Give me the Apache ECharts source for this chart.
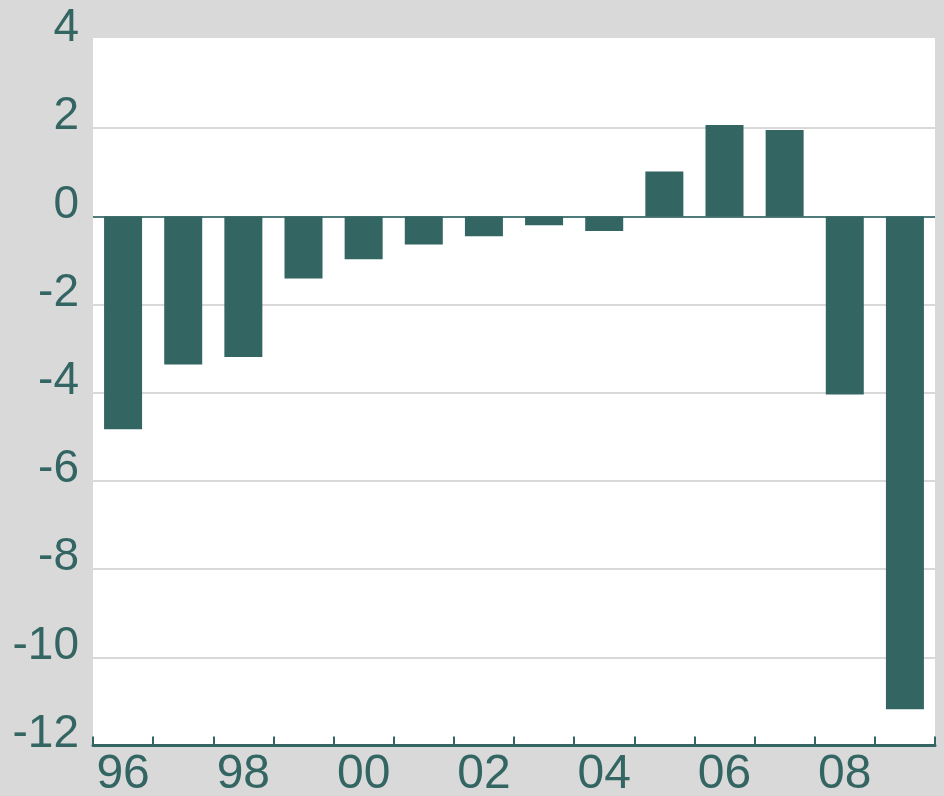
<!DOCTYPE html>
<html>
<head>
<meta charset="utf-8">
<script src="https://cdn.jsdelivr.net/npm/echarts@6/dist/echarts.min.js"></script>
<style>
  html, body { margin: 0; padding: 0; background: #d9d9d9; }
  #chart { width: 944px; height: 796px; }
</style>
</head>
<body>
<div id="chart"></div>
<script>
const categories = ['96','97','98','99','00','01','02','03','04','05','06','07','08','09'];
const values = [-4.83, -3.36, -3.19, -1.41, -0.97, -0.64, -0.45, -0.2, -0.33, 1.02, 2.07, 1.96, -4.04, -11.18];
const yTicks = { min: -12, max: 4, interval: 2 };

const teal = '#336563';
const font = "'Liberation Sans Narrow', 'Arial Narrow', 'Liberation Sans', Arial, sans-serif";

const chart = echarts.init(document.getElementById('chart'), null, { renderer: 'canvas' });
chart.setOption({
  backgroundColor: '#d9d9d9',
  animation: false,
  graphic: [{
    type: 'rect', z: -10, silent: true,
    shape: { x: 93, y: 38, width: 842, height: 708 },
    style: { fill: '#ffffff' }
  }],
  grid: { left: 93, right: 9, top: 40, bottom: 50.5, containLabel: false, outerBoundsMode: 'none' },
  xAxis: {
    type: 'category',
    data: categories,
    boundaryGap: true,
    axisLine: { show: true, onZero: false, lineStyle: { color: teal, width: 3 } },
    axisTick: { show: true, inside: true, length: 9, interval: 0, alignWithLabel: false, lineStyle: { color: teal, width: 2 } },
    axisLabel: { interval: 1, color: teal, fontFamily: font, fontSize: 48, margin: 5 },
    splitLine: { show: false }
  },
  yAxis: {
    type: 'value',
    min: yTicks.min, max: yTicks.max, interval: yTicks.interval,
    axisLine: { show: false },
    axisTick: { show: false },
    axisLabel: { color: teal, fontFamily: font, fontSize: 46, margin: 14, verticalAlign: 'bottom', lineHeight: 23 },
    splitLine: { show: true, lineStyle: { color: ['#d9d9d9','#d9d9d9','#d9d9d9','#d9d9d9','#d9d9d9','#d9d9d9','#d9d9d9','#d9d9d9','rgba(0,0,0,0)'], width: 2 } }
  },
  series: [{
    type: 'bar',
    data: values,
    barWidth: 38,
    itemStyle: { color: teal },
    markLine: {
      silent: true, symbol: 'none', label: { show: false },
      lineStyle: { color: '#4f7c7a', width: 2, type: 'solid' },
      data: [{ yAxis: 0 }],
      z: 1
    }
  }]
});
</script>
</body>
</html>
